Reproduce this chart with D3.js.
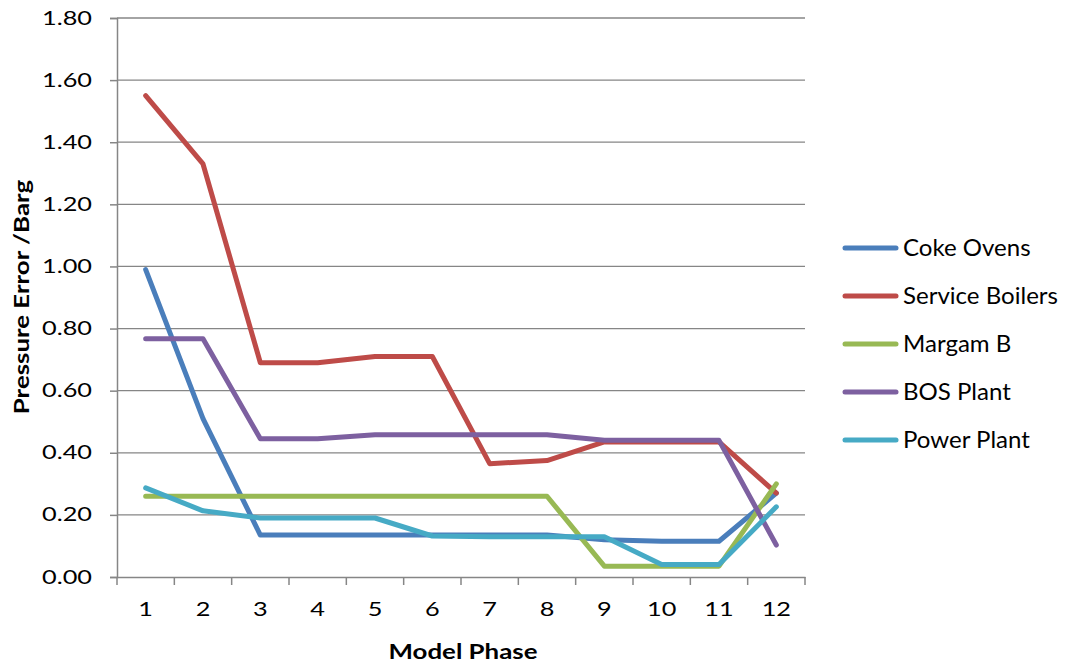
<!DOCTYPE html>
<html><head><meta charset="utf-8">
<script src="https://cdn.jsdelivr.net/npm/d3@7"></script>
<style>body{margin:0;background:#fff;} text{font-family:Lato,"Open Sans",sans-serif;fill:#000;}</style>
</head><body><svg id="c" width="1070" height="664"></svg>
<script>
const phases = [1,2,3,4,5,6,7,8,9,10,11,12];
const seriesNames = ["Coke Ovens","Service Boilers","Margam B","BOS Plant","Power Plant"];
const cokeOvens      = [0.99,0.51,0.135,0.135,0.135,0.135,0.135,0.135,0.12,0.115,0.115,0.27];
const serviceBoilers = [1.55,1.33,0.69,0.69,0.71,0.71,0.365,0.375,0.435,0.435,0.435,0.27];
const margamB        = [0.26,0.26,0.26,0.26,0.26,0.26,0.26,0.26,0.035,0.035,0.035,0.30];
const bosPlant       = [0.767,0.767,0.445,0.445,0.458,0.458,0.458,0.458,0.44,0.44,0.44,0.103];
const powerPlant     = [0.287,0.213,0.19,0.19,0.19,0.132,0.13,0.13,0.13,0.04,0.04,0.226];
const yTicks = [0,0.2,0.4,0.6,0.8,1.0,1.2,1.4,1.6,1.8];
const colors = ["#4A7EBB","#BE4B48","#98B954","#7D60A0","#46AAC5"];
const values = [cokeOvens, serviceBoilers, margamB, bosPlant, powerPlant];

const svg = d3.select("#c");
const L=117, R=805, T=18, B=577;
const x = d3.scaleBand().domain(phases).range([L,R]);
const y = d3.scaleLinear().domain([0,1.8]).range([B,T]);
const grid="#868686";
const fmt = d3.format(".2f");

function measure(str, size, weight){
  const t = svg.append("text").attr("font-size",size).attr("font-weight",weight||"normal").text(str);
  const w = t.node().getComputedTextLength(); t.remove(); return w;
}
const tickSize = 18.5, legSize = 23.5, titleSize = 21.5;
const sTick = 50 / measure("1.80", tickSize);
const sLeg = 155 / measure("Service Boilers", legSize);
const sTitle = 149 / measure("Model Phase", titleSize, "bold");

// gridlines
svg.append("g").selectAll("line").data(yTicks.filter(d=>d>0)).join("line")
  .attr("x1",L).attr("x2",R).attr("y1",d=>y(d)).attr("y2",d=>y(d))
  .attr("stroke",grid).attr("stroke-width",1.3);

// y axis
const ya = svg.append("g").attr("transform",`translate(${L},0)`)
  .call(d3.axisLeft(y).tickValues(yTicks).tickFormat("").tickSize(7));
ya.select(".domain").attr("stroke",grid).attr("stroke-width",1.5);
ya.selectAll(".tick line").attr("stroke",grid).attr("stroke-width",1.5);
svg.append("g").selectAll("text").data(yTicks).join("text")
  .attr("transform",d=>`translate(92,${y(d)+6.5}) scale(${sTick},1)`)
  .attr("text-anchor","end").attr("font-size",tickSize).text(d=>fmt(d));

// x axis
const xa = svg.append("g").attr("transform",`translate(0,${B})`)
  .call(d3.axisBottom(x).tickSize(0).tickFormat(""));
xa.select(".domain").attr("stroke",grid).attr("stroke-width",1.5);
svg.append("g").selectAll("line").data(d3.range(phases.length+1)).join("line")
  .attr("x1",i=>L+i*x.step()).attr("x2",i=>L+i*x.step())
  .attr("y1",B).attr("y2",B+8).attr("stroke",grid).attr("stroke-width",1.5);
svg.append("g").selectAll("text").data(phases).join("text")
  .attr("transform",d=>`translate(${x(d)+x.bandwidth()/2},616) scale(${sTick},1)`)
  .attr("text-anchor","middle").attr("font-size",tickSize).text(d=>d);

// lines
const line = d3.line().x((d,i)=>x(phases[i])+x.bandwidth()/2).y(d=>y(d));
values.forEach((v,k)=>{
  svg.append("path").datum(v).attr("d",line).attr("fill","none")
    .attr("stroke",colors[k]).attr("stroke-width",5).attr("stroke-linejoin","round").attr("stroke-linecap","round");
});

// titles
svg.append("text").attr("transform",`translate(463,659) scale(${sTitle},1)`).attr("text-anchor","middle")
  .attr("font-size",titleSize).attr("font-weight","bold").text("Model Phase");
svg.append("text").attr("transform",`translate(29,297) rotate(-90) scale(${sTitle},1)`).attr("text-anchor","middle")
  .attr("font-size",titleSize).attr("font-weight","bold").text("Pressure Error /Barg");

// legend
const lg = svg.append("g");
seriesNames.forEach((n,k)=>{
  const yy = 248 + k*48;
  lg.append("line").attr("x1",845).attr("x2",896).attr("y1",yy).attr("y2",yy)
    .attr("stroke",colors[k]).attr("stroke-width",5).attr("stroke-linecap","round");
  lg.append("text").attr("transform",`translate(903,${yy+8}) scale(${sLeg},1)`).attr("font-size",legSize).text(n);
});
</script></body></html>
